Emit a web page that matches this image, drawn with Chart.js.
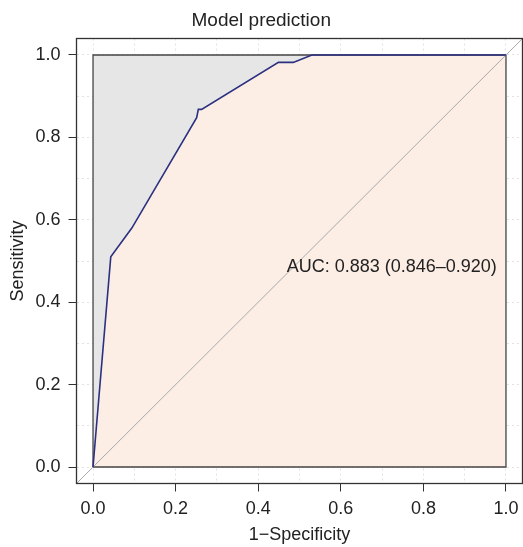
<!DOCTYPE html>
<html lang="en">
<head>
  <meta charset="UTF-8">
  <title>Model prediction ROC</title>
  <script src="https://cdn.jsdelivr.net/npm/chart.js"></script>
  <style>
    html, body { margin: 0; padding: 0; background: #fff; }
    #wrap { width: 523px; height: 547px; }
  </style>
</head>
<body>
  <div id="wrap"><canvas id="rocChart"></canvas></div>

  <script>
    // ROC curve (x = 1-specificity, y = sensitivity)
    const fpr = [0, 0.043, 0.094, 0.251, 0.255, 0.263, 0.449, 0.485, 0.53, 1];
    const tpr = [0, 0.51, 0.58, 0.848, 0.868, 0.868, 0.982, 0.982, 1, 1];

    // unit box and chance line
    const boxX = [0, 0, 1, 1, 0];
    const boxY = [0, 1, 1, 0, 0];
    const diagX = [-0.04, 1.04];
    const diagY = [-0.04, 1.04];
    const topX = [0, 1];
    const topY = [1, 1];

    // ticks
    const gridVals = [0, 0.1, 0.2, 0.3, 0.4, 0.5, 0.6, 0.7, 0.8, 0.9, 1.0];
    const tickLabels = [0, 0.2, 0.4, 0.6, 0.8, 1.0];

    const aucText = 'AUC: 0.883 (0.846\u20130.920)';
    const aucPos = [0.469, 0.486];

    const pts = (xs, ys) => xs.map((x, i) => ({ x: x, y: ys[i] }));
    const isLabel = v => tickLabels.some(t => Math.abs(t - v) < 1e-6);
    const FONT = "'Liberation Sans', Arial, sans-serif";

    // frame around the whole plot region + AUC text
    const framePlugin = {
      id: 'frame',
      afterDatasetsDraw(chart) {
        const { ctx, chartArea: a, scales } = chart;
        ctx.save();
        ctx.strokeStyle = '#333';
        ctx.lineWidth = 1.3;
        ctx.strokeRect(a.left, a.top, a.right - a.left, a.bottom - a.top);
        ctx.fillStyle = '#222';
        ctx.font = '18px ' + FONT;
        ctx.textAlign = 'left';
        ctx.textBaseline = 'middle';
        ctx.fillText(aucText, scales.x.getPixelForValue(aucPos[0]), scales.y.getPixelForValue(aucPos[1]));
        ctx.restore();
      }
    };

    const axisCommon = {
      type: 'linear',
      min: -0.04,
      max: 1.04,
      afterBuildTicks: s => { s.ticks = gridVals.map(v => ({ value: v })); },
      border: { display: false, dash: [2, 3] },
      grid: {
        color: '#e2e2e2',
        lineWidth: 1,
        tickLength: 8,
        tickWidth: 1,
        tickColor: c => isLabel(c.tick.value) ? '#333' : 'rgba(0,0,0,0)'
      },
      ticks: {
        color: '#222',
        font: { family: FONT, size: 18, lineHeight: 1.2 },
        padding: 7,
        maxRotation: 0,
        autoSkip: false,
        callback: v => isLabel(v) ? v.toFixed(1) : ''
      }
    };

    new Chart(document.getElementById('rocChart'), {
      type: 'scatter',
      data: {
        datasets: [
          { data: pts(topX, topY), showLine: true, borderWidth: 0, pointRadius: 0,
            fill: 'origin', backgroundColor: 'rgb(230,230,230)', order: 6 },
          { data: pts(fpr, tpr), showLine: true, borderWidth: 0, pointRadius: 0,
            fill: 'origin', backgroundColor: 'rgb(252,237,229)', order: 5 },
          { data: pts(boxX, boxY), showLine: true, borderWidth: 1.3, borderColor: '#444',
            pointRadius: 0, fill: false, order: 4 },
          { data: pts(diagX, diagY), showLine: true, borderWidth: 1, borderColor: '#aaa',
            pointRadius: 0, fill: false, order: 3 },
          { data: pts(fpr, tpr), showLine: true, borderWidth: 1.6, borderColor: '#2b3080',
            pointRadius: 0, fill: false, tension: 0, order: 1 }
        ]
      },
      options: {
        responsive: true,
        maintainAspectRatio: false,
        animation: false,
        layout: { padding: { right: 0.5 } },
        plugins: {
          legend: { display: false },
          tooltip: { enabled: false },
          title: {
            display: true,
            text: 'Model prediction',
            color: '#222',
            font: { family: FONT, size: 19, weight: 'normal', lineHeight: 1.2 },
            padding: { top: 9, bottom: 6.7 }
          }
        },
        scales: {
          x: Object.assign({}, axisCommon, {
            afterFit: s => { s.height = 63.5; s.paddingLeft = 0; s.paddingRight = 0; },
            title: { display: true, text: '1\u2212Specificity', color: '#222',
              font: { family: FONT, size: 18, lineHeight: 1.2 }, padding: { top: 0, bottom: 1 } }
          }),
          y: Object.assign({}, axisCommon, {
            afterFit: s => { s.width = 76.5; s.paddingTop = 0; s.paddingBottom = 0; },
            ticks: Object.assign({}, axisCommon.ticks, { padding: 8 }),
            title: { display: true, text: 'Sensitivity', color: '#222',
              font: { family: FONT, size: 18, lineHeight: 1.2 }, padding: { top: 7, bottom: 0 } }
          })
        }
      },
      plugins: [framePlugin]
    });
  </script>
</body>
</html>
